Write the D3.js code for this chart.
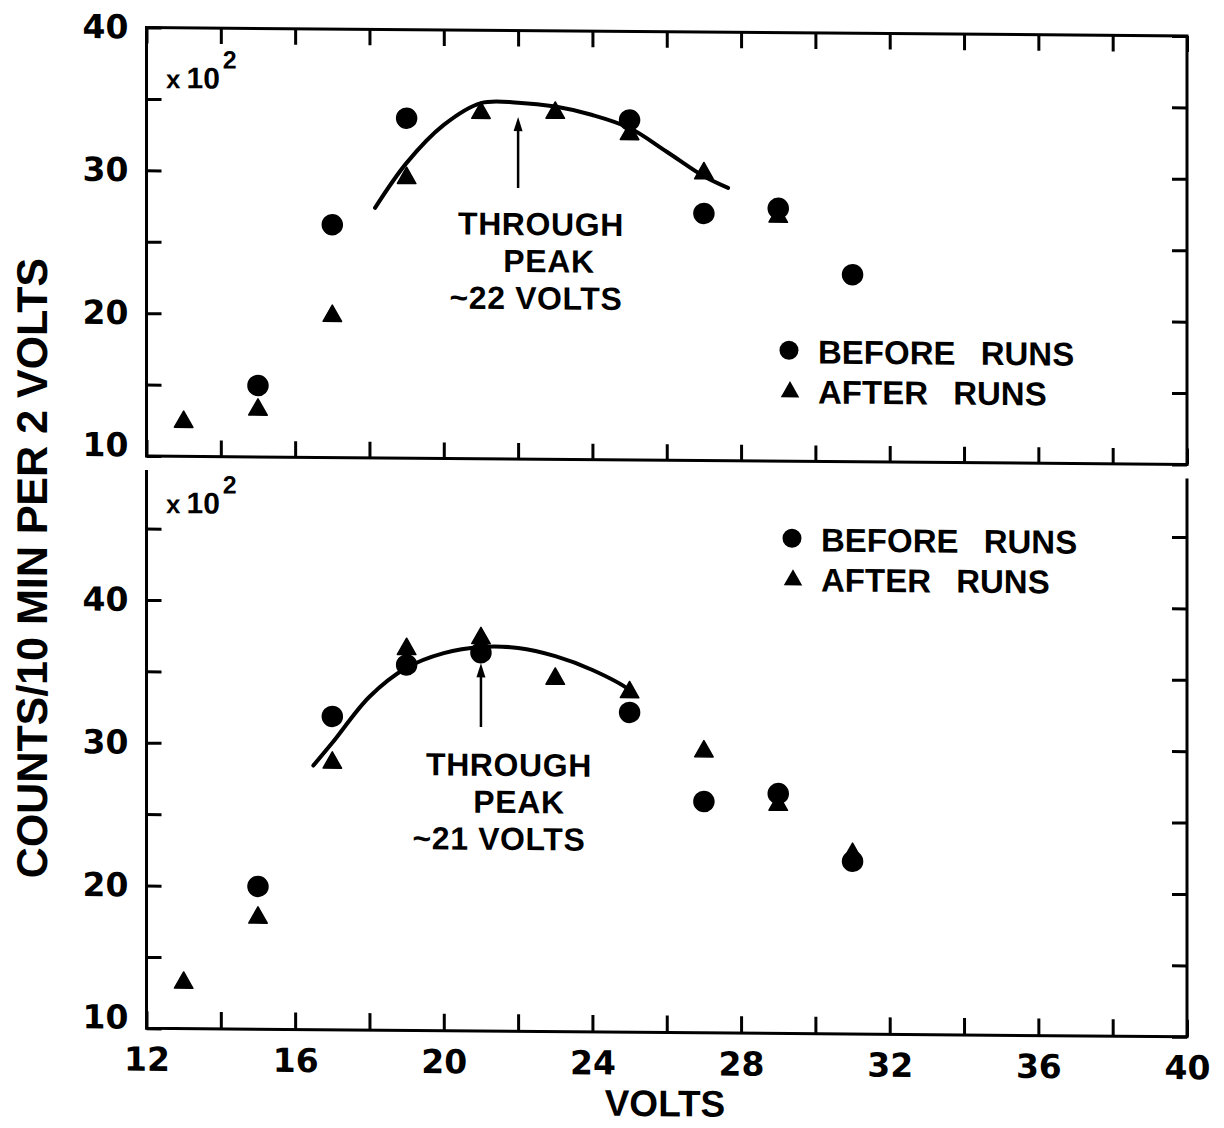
<!DOCTYPE html>
<html>
<head>
<meta charset="utf-8">
<title>Counts per 10 min vs volts</title>
<script src="https://cdn.jsdelivr.net/npm/d3@7"></script>
<style>
  body { margin: 0; background: #fff; }
  svg text { font-family: "Liberation Sans", Arial, sans-serif; font-weight: bold; fill: #000; }
  svg .num text { font-family: "DejaVu Sans", sans-serif; font-size: 33px; }
</style>
</head>
<body>
<script>

// upper panel, peak ~22 volts (counts in units of 10^2)
var topVoltsBefore  = [15, 17, 19, 25, 27, 29, 31];
var topCountsBefore = [15.0, 26.3, 33.8, 33.8, 27.3, 27.7, 23.1];
var topVoltsAfter   = [13, 15, 17, 19, 21, 23, 25, 27, 29];
var topCountsAfter  = [12.6, 13.5, 20.1, 29.8, 34.4, 34.45, 33.0, 30.3, 27.3];
var topCurveVolts   = [18.15, 19, 20, 21, 22, 23, 24, 25, 26, 27, 27.65];
var topCurveCounts  = [27.5, 30.67, 33.35, 34.9, 34.95, 34.7, 34.13, 33.24, 31.6, 29.9, 29.1];

// lower panel, peak ~21 volts
var botVoltsBefore  = [15, 17, 19, 21, 25, 27, 29, 31];
var botCountsBefore = [20.0, 31.95, 35.6, 36.5, 32.4, 26.2, 26.8, 22.1];
var botVoltsAfter   = [13, 15, 17, 19, 21, 23, 25, 27, 29, 31];
var botCountsAfter  = [13.4, 18.0, 28.9, 36.9, 37.7, 34.9, 34.0, 29.9, 26.2, 22.8];
var botCurveVolts   = [16.49, 17, 18, 19, 20, 21, 22, 23, 24, 25, 25.1];
var botCurveCounts  = [28.5, 30.1, 33.35, 35.4, 36.45, 36.9, 36.85, 36.3, 35.35, 33.97, 33.7];

var xTicks = [12, 14, 16, 18, 20, 22, 24, 26, 28, 30, 32, 34, 36, 38, 40];
var xTickLabels = [12, 16, 20, 24, 28, 32, 36, 40];
var topYTicks = [10, 15, 20, 25, 30, 35, 40];
var botYTicks = [10, 15, 20, 25, 30, 35, 40, 45];
var yTickLabels = [10, 20, 30, 40];

var legendLabels = ['BEFORE RUNS', 'AFTER RUNS'];

var width = 1224, height = 1128;

var svg = d3.select('body')
  .append('svg')
  .attr('width', width)
  .attr('height', height);

svg.append('rect').attr('width', width).attr('height', height).attr('fill', '#fff');

// the scanned figure leans a little: right side sits ~8px lower
var g = svg.append('g')
  .attr('transform', 'translate(146.5,0) skewY(0.468) translate(-146.5,0)');

var x = d3.scaleLinear().domain([12, 40]).range([146.5, 1187]);
var yTop = d3.scaleLinear().domain([10, 40]).range([456, 27.5]);
var yBot = d3.scaleLinear().domain([10, 49.1]).range([1028.3, 470]);

function zip(a, b) {
  return a.map(function(d, i) { return [d, b[i]]; });
}

function styleAxis(sel) {
  sel.select('.domain').remove();
  sel.selectAll('.tick line').attr('stroke', '#000').attr('stroke-width', 3);
  sel.attr('font-size', null).attr('font-family', null);
  sel.selectAll('.tick text').attr('fill', '#000');
}

function noLabel() { return ''; }

function yLabelFormat(d) {
  return yTickLabels.indexOf(d) >= 0 ? d : '';
}

// ---- frames
g.append('rect')
  .attr('x', x(12)).attr('y', yTop(40))
  .attr('width', x(40) - x(12)).attr('height', yTop(10) - yTop(40))
  .attr('fill', 'none').attr('stroke', '#000').attr('stroke-width', 3);

g.append('path')
  .attr('d', 'M' + x(12) + ',' + yBot(49.1) + 'V' + yBot(10) + 'H' + x(40) + 'V' + yBot(49.1))
  .attr('fill', 'none').attr('stroke', '#000').attr('stroke-width', 3);

// ---- top panel axes
g.append('g').attr('class', 'num')
  .attr('transform', 'translate(' + x(12) + ',0)')
  .call(d3.axisLeft(yTop).tickValues(topYTicks).tickSizeInner(-15).tickSizeOuter(0)
    .tickPadding(18).tickFormat(yLabelFormat))
  .call(styleAxis)
  .selectAll('.tick text').attr('dy', function(d) { return d === 10 ? '0' : '0.32em'; });

g.append('g')
  .attr('transform', 'translate(' + x(40) + ',0)')
  .call(d3.axisRight(yTop).tickValues(topYTicks).tickSizeInner(-15).tickSizeOuter(0).tickFormat(noLabel))
  .call(styleAxis);

g.append('g')
  .attr('transform', 'translate(0,' + yTop(40) + ')')
  .call(d3.axisTop(x).tickValues(xTicks).tickSizeInner(-16).tickSizeOuter(0).tickFormat(noLabel))
  .call(styleAxis);

g.append('g')
  .attr('transform', 'translate(0,' + yTop(10) + ')')
  .call(d3.axisBottom(x).tickValues(xTicks).tickSizeInner(-16).tickSizeOuter(0).tickFormat(noLabel))
  .call(styleAxis);

// ---- bottom panel axes
g.append('g').attr('class', 'num')
  .attr('transform', 'translate(' + x(12) + ',0)')
  .call(d3.axisLeft(yBot).tickValues(botYTicks).tickSizeInner(-15).tickSizeOuter(0)
    .tickPadding(18).tickFormat(yLabelFormat))
  .call(styleAxis)
  .selectAll('.tick text').attr('dy', function(d) { return d === 10 ? '0' : '0.32em'; });

g.append('g')
  .attr('transform', 'translate(' + x(40) + ',0)')
  .call(d3.axisRight(yBot).tickValues(botYTicks).tickSizeInner(-15).tickSizeOuter(0).tickFormat(noLabel))
  .call(styleAxis);

g.append('g').attr('class', 'num')
  .attr('transform', 'translate(0,' + yBot(10) + ')')
  .call(d3.axisBottom(x).tickValues(xTicks).tickSizeInner(-17).tickSizeOuter(0).tickPadding(19)
    .tickFormat(function(d) { return xTickLabels.indexOf(d) >= 0 ? d : ''; }))
  .call(styleAxis);

// ---- axis titles
g.append('text')
  .attr('x', 665).attr('y', 1112)
  .attr('text-anchor', 'middle')
  .style('font-size', '37px')
  .text('VOLTS');

g.append('text')
  .attr('transform', 'translate(47,569) rotate(-90)')
  .attr('text-anchor', 'middle')
  .style('font-size', '43px')
  .text('COUNTS/10 MIN PER 2 VOLTS');

// x10^2 multipliers
[88, 513].forEach(function(base) {
  var t = g.append('text').attr('x', 166).attr('y', base);
  t.append('tspan').style('font-size', '26px').text('x');
  t.append('tspan').attr('dx', 6).style('font-size', '30px').text('10');
  t.append('tspan').attr('dx', 3).attr('dy', -20).style('font-size', '25px').text('2');
});

// ---- markers
var circleSym = d3.symbol().type(d3.symbolCircle).size(Math.PI * 100);
var triType = {
  draw: function(ctx, size) {
    var w = Math.sqrt(size), h = w * 0.88;
    ctx.moveTo(0, -h / 2);
    ctx.lineTo(w / 2, h / 2);
    ctx.lineTo(-w / 2, h / 2);
    ctx.closePath();
  }
};
var triSym = d3.symbol().type(triType).size(18.5 * 18.5);

function drawPoints(pts, yScale, sym) {
  g.append('g').selectAll('path')
    .data(pts)
    .enter()
    .append('path')
    .attr('transform', function(d) { return 'translate(' + x(d[0]) + ',' + yScale(d[1]) + ')'; })
    .attr('d', sym)
    .attr('fill', '#000')
    .attr('stroke', '#000')
    .attr('stroke-width', 1.5)
    .attr('stroke-linejoin', 'round');
}

drawPoints(zip(topVoltsBefore, topCountsBefore), yTop, circleSym);
drawPoints(zip(topVoltsAfter, topCountsAfter), yTop, triSym);
drawPoints(zip(botVoltsBefore, botCountsBefore), yBot, circleSym);
drawPoints(zip(botVoltsAfter, botCountsAfter), yBot, triSym);

// ---- hand-drawn curves
function drawCurve(pts, yScale) {
  var line = d3.line()
    .x(function(d) { return x(d[0]); })
    .y(function(d) { return yScale(d[1]); })
    .curve(d3.curveCatmullRom);
  g.append('path')
    .attr('d', line(pts))
    .attr('fill', 'none')
    .attr('stroke', '#000')
    .attr('stroke-width', 4)
    .attr('stroke-linecap', 'round');
}

drawCurve(zip(topCurveVolts, topCurveCounts), yTop);
drawCurve(zip(botCurveVolts, botCurveCounts), yBot);

// ---- peak arrows
function drawArrow(v, from, to, yScale) {
  var ax = x(v), y0 = yScale(from), y1 = yScale(to);
  g.append('line')
    .attr('x1', ax).attr('x2', ax).attr('y1', y0).attr('y2', y1 + 8)
    .attr('stroke', '#000').attr('stroke-width', 2.5);
  g.append('path')
    .attr('d', 'M' + ax + ',' + y1 + 'L' + (ax + 4.5) + ',' + (y1 + 14) + 'L' + (ax - 4.5) + ',' + (y1 + 14) + 'Z')
    .attr('fill', '#000');
}

drawArrow(22, 28.97, 33.94, yTop);
drawArrow(21, 31.3, 35.75, yBot);

// ---- annotations
var notes = [
  { text: 'THROUGH',   x: 541, y: 232 },
  { text: 'PEAK',      x: 549, y: 269 },
  { text: '~22 VOLTS', x: 536, y: 306 },
  { text: 'THROUGH',   x: 509, y: 773 },
  { text: 'PEAK',      x: 519, y: 810 },
  { text: '~21 VOLTS', x: 499, y: 847 }
];

g.append('g').selectAll('text')
  .data(notes)
  .enter()
  .append('text')
  .attr('x', function(d) { return d.x; })
  .attr('y', function(d) { return d.y; })
  .attr('text-anchor', 'middle')
  .style('font-size', '32px')
  .style('letter-spacing', '0.6px')
  .text(function(d) { return d.text; });

// ---- legends
function drawLegend(cx, cy) {
  var lg = g.append('g');
  lg.append('path').attr('transform', 'translate(' + cx + ',' + cy + ')')
    .attr('d', d3.symbol().type(d3.symbolCircle).size(Math.PI * 90)).attr('fill', '#000');
  lg.append('path').attr('transform', 'translate(' + (cx + 1) + ',' + (cy + 39) + ')')
    .attr('d', triSym).attr('fill', '#000');
  lg.selectAll('text')
    .data(legendLabels)
    .enter()
    .append('text')
    .attr('x', cx + 29)
    .attr('y', function(d, i) { return cy + 13 + i * 40; })
    .style('font-size', '33px')
    .style('word-spacing', '16px')
    .text(function(d) { return d; });
}

drawLegend(789, 345);
drawLegend(792, 533);

</script>
</body>
</html>
